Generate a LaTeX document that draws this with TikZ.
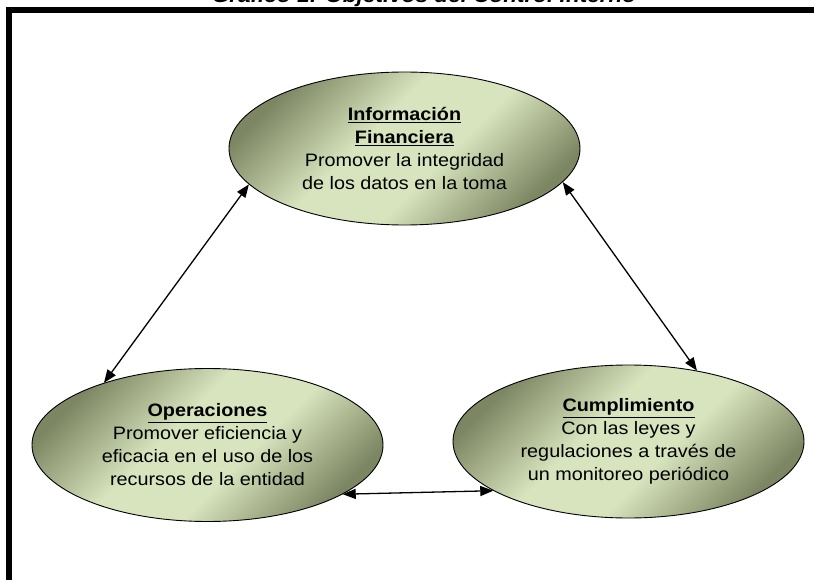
\documentclass[tikz,border=0pt]{standalone}
\usepackage{fontspec}
\setmainfont[FakeStretch=1.1]{Liberation Sans}
\usetikzlibrary{arrows.meta,shapes.geometric}

\definecolor{olivelight}{RGB}{215,228,189}
\definecolor{olivedark}{RGB}{125,134,98}
\pgfdeclareverticalshading{olivefade}{100bp}{color(0bp)=(olivedark); color(25bp)=(olivedark);
  color(43bp)=(olivelight); color(57bp)=(olivelight); color(75bp)=(olivedark); color(100bp)=(olivedark)}

\tikzset{
  objective/.style={ellipse, draw=black, line width=0.9pt,
    minimum width=351pt, minimum height=153pt, inner sep=0pt, align=center,
    shading=olivefade, shading angle=45, font=\fontsize{18}{23}\selectfont},
  link/.style={{Triangle[length=13pt,width=10pt]}-{Triangle[length=13pt,width=10pt]}, line width=1.3pt},
}

\begin{document}
\begin{tikzpicture}[x=1pt,y=-1pt]
        \useasboundingbox (0,0) rectangle (814,580);
        \clip (0,0) rectangle (814,580);

        % Title, cut off by the top edge
        \node[anchor=base, inner sep=0pt, font=\fontsize{20.5}{24}\selectfont\bfseries\itshape] (title) at (424,3) {Gráfico 1: Objetivos del Control Interno};

        % Draw frame
        \draw[line width=6pt] (9,10) rectangle (900,700);

        % Draw the three objectives
        \node[objective] (info) at (404.5,148.5) {\underline{\textbf{Información}}\\\underline{\textbf{Financiera}}\\Promover la integridad\\de los datos en la toma};
        \node[objective] (oper) at (207.5,445) {\underline{\textbf{Operaciones}}\\Promover eficiencia y\\eficacia en el uso de los\\recursos de la entidad};
        \node[objective] (cump) at (628.5,441.5) {\underline{\textbf{Cumplimiento}}\\Con las leyes y\\regulaciones a través de\\un monitoreo periódico};

        % Draw links between objectives
        \draw[link] (info.193) -- (oper.149);
        \draw[link] (info.-12) -- (cump.46);
        \draw[link] (oper.-20) -- (cump.200);

\end{tikzpicture}
\end{document}
